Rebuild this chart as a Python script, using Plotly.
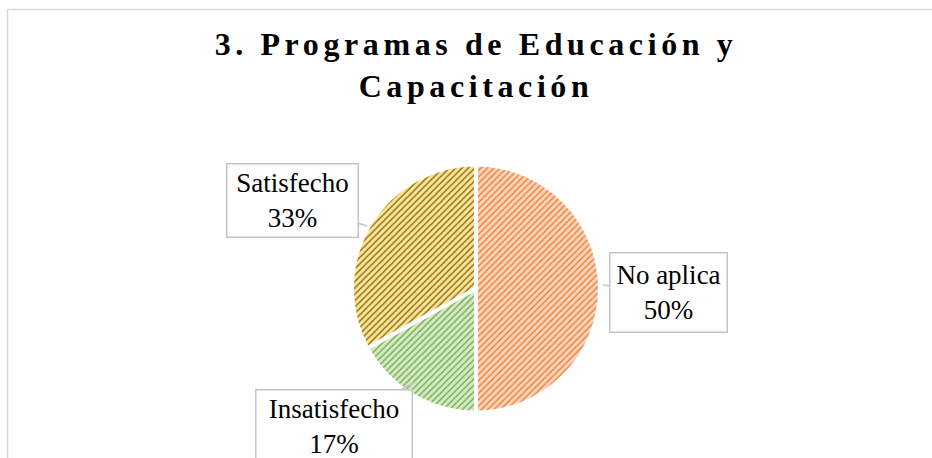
import plotly.graph_objects as go

# ---- data ----
categories = ["No aplica", "Insatisfecho", "Satisfecho"]
percentages = [50, 17, 33]
title_lines = ["3. Programas de Educación y", "Capacitación"]

# ---- styles ----
bg_colors = ["#FAD5BC", "#D6E9C8", "#FDE59D"]
fg_colors = ["#ED7D31", "#70AD47", "#8A6A06"]

W, H = 932, 458

def px(x):
    return x / W

def py(y):
    return 1 - y / H

# pie geometry (pixels)
cx, cy, r = 476, 288.5, 124

fig = go.Figure()
fig.add_trace(go.Pie(
    labels=categories,
    values=percentages,
    sort=False,
    direction="clockwise",
    rotation=0,
    textinfo="none",
    hoverinfo="label+percent",
    showlegend=False,
    domain=dict(x=[px(cx - r), px(cx + r)], y=[py(cy + r), py(cy - r)]),
    marker=dict(
        colors=bg_colors,
        line=dict(color="white", width=4),
        pattern=dict(shape="/", fgcolor=fg_colors, bgcolor=bg_colors,
                     size=4.5, solidity=0.32, fillmode="replace"),
    ),
))

# label boxes: (tip_x, tip_y, box_cx, box_cy, width, height) in pixels
label_layout = {
    "No aplica": (603, 285, 668, 292, 114, 76),
    "Insatisfecho": (415, 382, 333.5, 426, 153, 70),
    "Satisfecho": (367, 226, 292, 201, 128, 70),
}
for cat, pct in zip(categories, percentages):
    tx, ty, bx, by, w, h = label_layout[cat]
    fig.add_annotation(
        xref="paper", yref="paper", x=px(tx), y=py(ty),
        ax=bx - tx, ay=by - ty, axref="pixel", ayref="pixel",
        text=f"{cat}<br>{pct}%",
        showarrow=True, arrowhead=0, arrowwidth=1.5, arrowcolor="#c4c4c4",
        bgcolor="white", bordercolor="#c4c4c4", borderwidth=1.5, borderpad=1,
        width=w, height=h, align="center", valign="middle",
        font=dict(family="Liberation Serif, Times New Roman, serif", size=27, color="#000000"),
    )

# chart border
fig.add_shape(type="rect", xref="paper", yref="paper",
              x0=px(7.5), x1=1.05, y0=-0.05, y1=py(9.5),
              line=dict(color="#d9d9d9", width=1.5), fillcolor="rgba(0,0,0,0)",
              layer="below")

fig.update_layout(
    width=W, height=H,
    margin=dict(l=0, r=0, t=0, b=0),
    paper_bgcolor="white", plot_bgcolor="white",
    title=dict(
        text="<b>" + "<br>".join(title_lines) + "</b>",
        x=px(476), xanchor="center",
        y=0.88, yanchor="top", yref="container",
        font=dict(family="Liberation Serif, Times New Roman, serif", size=32, color="#000000"),
    ),
)

post = """
document.body.style.margin='0';
document.body.style.padding='0';
var gd = document.getElementById('{plot_id}');
function ls(){ document.querySelectorAll('.gtitle').forEach(function(t){ t.style.letterSpacing='4.6px'; }); }
ls();
if (gd && gd.on) { gd.on('plotly_afterplot', ls); }
"""
fig.write_html("out.html", post_script=post, config={"displayModeBar": False})
